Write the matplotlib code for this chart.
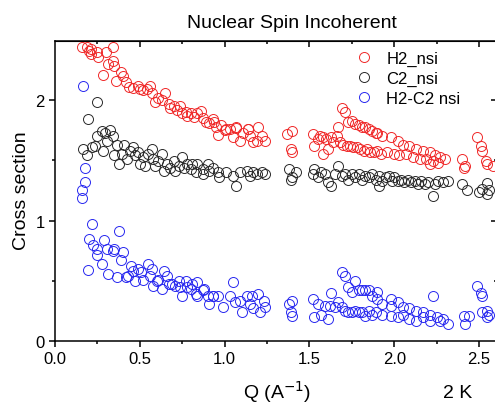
import matplotlib
matplotlib.use("Agg")
import matplotlib.pyplot as plt

plt.rcParams['font.family'] = ['Liberation Sans', 'DejaVu Sans']

# H2_nsi (red)
q_h2 = [0.157, 0.187, 0.20, 0.215, 0.21, 0.25, 0.255, 0.30, 0.34, 0.315, 0.34, 0.35,
        0.285, 0.39, 0.40, 0.36, 0.42, 0.435, 0.46, 0.49, 0.50, 0.52, 0.54, 0.56,
        0.57, 0.59, 0.61, 0.63, 0.65, 0.67, 0.68, 0.70, 0.72, 0.74, 0.75, 0.77,
        0.78, 0.80, 0.82, 0.84, 0.86, 0.87, 0.89, 0.91, 0.93, 0.95, 0.96,
        0.94, 0.98, 1.00, 1.03, 1.05, 1.07, 1.09, 1.11, 1.14, 1.15, 1.17, 1.19,
        1.20, 1.22, 1.24, 1.01, 1.07, 1.14,
        1.37, 1.40, 1.39, 1.40,
        1.52, 1.53, 1.55, 1.56, 1.58, 1.58, 1.60, 1.61, 1.63, 1.64, 1.66, 1.68,
        1.67, 1.69, 1.71, 1.73, 1.75, 1.77, 1.79, 1.81, 1.83, 1.85, 1.87, 1.89,
        1.70, 1.72, 1.74, 1.76, 1.78, 1.80, 1.82, 1.84, 1.86, 1.88, 1.90,
        1.90, 1.93, 1.98, 2.02, 2.05, 2.09, 2.13, 2.17, 2.21, 2.24, 2.27, 2.30,
        1.92, 1.96, 2.00, 2.03, 2.07, 2.11, 2.15, 2.19, 2.23, 2.26, 2.21,
        2.40, 2.42, 2.41,
        2.49, 2.51, 2.52, 2.54, 2.55, 2.58]
cs_h2 = [2.44, 2.44, 2.41, 2.42, 2.38, 2.40, 2.36, 2.40, 2.44, 2.30, 2.32, 2.28,
         2.21, 2.23, 2.20, 2.16, 2.15, 2.11, 2.10, 2.12, 2.09, 2.08, 2.09, 2.12,
         2.06, 1.98, 2.02, 2.00, 2.06, 1.97, 1.93, 1.95, 1.92, 1.95, 1.89, 1.90,
         1.87, 1.89, 1.86, 1.89, 1.91, 1.85, 1.82, 1.81, 1.84, 1.78, 1.71,
         1.82, 1.79, 1.75, 1.76, 1.69, 1.78, 1.66, 1.73, 1.76, 1.70, 1.65, 1.66,
         1.78, 1.70, 1.66, 1.76, 1.77, 1.76,
         1.72, 1.74, 1.59, 1.57,
         1.72, 1.62, 1.68, 1.70, 1.55, 1.69, 1.68, 1.59, 1.69, 1.65, 1.70, 1.65,
         1.78, 1.93, 1.90, 1.82, 1.83, 1.80, 1.79, 1.78, 1.78, 1.76, 1.74, 1.73,
         1.63, 1.62, 1.62, 1.61, 1.61, 1.59, 1.58, 1.59, 1.57, 1.57, 1.58,
         1.73, 1.70, 1.69, 1.66, 1.63, 1.62, 1.59, 1.58, 1.57, 1.54, 1.53, 1.51,
         1.55, 1.57, 1.55, 1.54, 1.55, 1.53, 1.51, 1.51, 1.49, 1.48, 1.47,
         1.51, 1.45, 1.44,
         1.69, 1.62, 1.58, 1.49, 1.47, 1.45]

# C2_nsi (black)
q_c2 = [0.25, 0.195, 0.165, 0.19, 0.22, 0.235, 0.25, 0.28, 0.295, 0.285, 0.305, 0.325,
        0.34, 0.365, 0.35, 0.38, 0.395, 0.41, 0.425, 0.44, 0.46, 0.47, 0.49, 0.50,
        0.52, 0.53, 0.55, 0.57, 0.58, 0.59, 0.61, 0.63, 0.64, 0.66, 0.68, 0.70,
        0.71, 0.73, 0.75, 0.76, 0.78, 0.80, 0.81, 0.83, 0.84, 0.87, 0.87, 0.90,
        0.91, 0.93, 0.96, 0.97, 1.01, 1.05, 1.07, 1.09, 1.13, 1.15, 1.17, 1.19,
        1.22, 1.24,
        1.38, 1.39, 1.42, 1.40,
        1.52, 1.53, 1.55, 1.57, 1.59, 1.61, 1.63, 1.65, 1.67, 1.69, 1.71, 1.73,
        1.75, 1.77, 1.79, 1.81, 1.83, 1.85, 1.87, 1.89, 1.91, 1.93, 1.95, 1.97,
        1.99, 2.00, 2.02, 2.04, 2.06, 2.08, 2.10, 2.12, 2.14, 2.16, 2.18, 2.20,
        2.23, 2.24, 2.26, 2.29, 2.32, 1.91,
        2.40, 2.43,
        2.50, 2.52, 2.55, 2.56, 2.55]
cs_c2 = [1.98, 1.84, 1.59, 1.54, 1.61, 1.62, 1.70, 1.74, 1.73, 1.58, 1.66, 1.75,
         1.70, 1.63, 1.54, 1.47, 1.55, 1.63, 1.51, 1.58, 1.61, 1.54, 1.57, 1.47,
         1.53, 1.45, 1.55, 1.59, 1.51, 1.45, 1.49, 1.55, 1.41, 1.47, 1.44, 1.49,
         1.41, 1.45, 1.53, 1.44, 1.47, 1.43, 1.47, 1.40, 1.47, 1.43, 1.39, 1.47,
         1.41, 1.44, 1.40, 1.36, 1.40, 1.37, 1.29, 1.40, 1.41, 1.37, 1.40, 1.39,
         1.40, 1.39,
         1.43, 1.34, 1.40, 1.36,
         1.39, 1.43, 1.36, 1.40, 1.39, 1.32, 1.29, 1.39, 1.45, 1.37, 1.39, 1.34,
         1.39, 1.36, 1.39, 1.34, 1.37, 1.36, 1.39, 1.34, 1.37, 1.33, 1.36, 1.37,
         1.33, 1.36, 1.33, 1.34, 1.32, 1.34, 1.32, 1.33, 1.30, 1.33, 1.30, 1.32,
         1.20, 1.30, 1.33, 1.32, 1.33, 1.29,
         1.30, 1.25,
         1.24, 1.26, 1.22, 1.25, 1.31]

# H2-C2 nsi (blue)
q_diff = [0.165, 0.18, 0.16, 0.16, 0.18,
          0.22, 0.20, 0.195, 0.225, 0.245, 0.245, 0.28, 0.29, 0.305, 0.31, 0.34, 0.35,
          0.375, 0.39, 0.40, 0.365, 0.42, 0.43, 0.45, 0.47, 0.46, 0.49, 0.51, 0.52,
          0.55, 0.56, 0.57, 0.58, 0.60, 0.61, 0.63, 0.64, 0.66, 0.67, 0.69, 0.71,
          0.73, 0.75, 0.74, 0.77, 0.78, 0.80, 0.81, 0.83, 0.84, 0.84, 0.87, 0.88,
          0.90, 0.91, 0.93, 0.96, 1.05, 0.93, 0.99, 1.03, 1.09, 1.10, 1.13, 1.15,
          1.17, 1.20, 1.21, 1.23, 1.24, 1.16, 1.06,
          1.38, 1.40, 1.39, 1.40,
          1.52, 1.53, 1.55, 1.57, 1.59, 1.61, 1.63, 1.62, 1.65, 1.67, 1.69, 1.71,
          1.73, 1.75, 1.77, 1.79, 1.81, 1.83, 1.85, 1.87, 1.89,
          1.69, 1.71, 1.73, 1.75, 1.77, 1.79, 1.81, 1.83, 1.85, 1.87, 1.90,
          1.98, 2.02, 2.05, 2.09, 2.13, 2.17, 2.21, 2.25, 2.29, 2.32,
          1.93, 1.98, 2.02, 2.05, 2.09, 2.13, 2.17, 2.21, 2.23, 2.27, 1.93, 1.90, 1.98,
          2.41, 2.44, 2.42,
          2.49, 2.52, 2.51, 2.52, 2.55, 2.55, 2.56]
cs_diff = [2.12, 1.44, 1.25, 1.19, 1.32,
           0.97, 0.85, 0.59, 0.80, 0.76, 0.71, 0.64, 0.84, 0.76, 0.56, 0.75, 0.76,
           0.91, 0.67, 0.74, 0.53, 0.53, 0.54, 0.62, 0.50, 0.58, 0.60, 0.57, 0.51,
           0.64, 0.54, 0.60, 0.46, 0.50, 0.51, 0.43, 0.58, 0.54, 0.47, 0.47, 0.46,
           0.50, 0.37, 0.45, 0.50, 0.45, 0.43, 0.47, 0.39, 0.49, 0.37, 0.42, 0.43,
           0.37, 0.31, 0.37, 0.37, 0.49, 0.37, 0.28, 0.37, 0.33, 0.24, 0.37, 0.31,
           0.27, 0.39, 0.24, 0.33, 0.28, 0.37, 0.32,
           0.31, 0.33, 0.24, 0.21,
           0.35, 0.20, 0.31, 0.22, 0.29, 0.18, 0.40, 0.29, 0.28, 0.32, 0.28, 0.25,
           0.24, 0.24, 0.25, 0.24, 0.24, 0.21, 0.25, 0.22, 0.24,
           0.57, 0.54, 0.45, 0.41, 0.50, 0.42, 0.42, 0.42, 0.42, 0.37, 0.41,
           0.35, 0.32, 0.28, 0.27, 0.25, 0.24, 0.22, 0.20, 0.18, 0.14,
           0.22, 0.21, 0.20, 0.22, 0.18, 0.17, 0.20, 0.17, 0.37, 0.17, 0.31, 0.35, 0.29,
           0.21, 0.21, 0.14,
           0.46, 0.37, 0.40, 0.24, 0.20, 0.25, 0.22]

fig = plt.figure(figsize=(4.95, 4.06), dpi=100)
# right spine sits just past the image edge, as in the cropped original
ax = fig.add_axes([0.111, 0.1576, 0.893, 0.739])

mk = dict(linestyle='none', marker='o', markerfacecolor='none', markersize=7.2, markeredgewidth=0.7)
ax.plot(q_h2, cs_h2, markeredgecolor='#f02828', label='H2_nsi', **mk)
ax.plot(q_c2, cs_c2, markeredgecolor='#282828', label='C2_nsi', **mk)
ax.plot(q_diff, cs_diff, markeredgecolor='#2828f0', label='H2-C2 nsi', **mk)

ax.set_xlim(0, 2.606)
ax.set_ylim(0, 2.49)
ax.set_xticks([0, 0.5, 1.0, 1.5, 2.0, 2.5])
ax.set_xticklabels(['0.0', '0.5', '1.0', '1.5', '2.0', '2.5'])
ax.set_xticks([0.25, 0.75, 1.25, 1.75, 2.25], minor=True)
ax.set_yticks([0, 1, 2])
ax.set_yticks([0.5, 1.5], minor=True)
ax.tick_params(which='major', direction='out', length=4.5, width=1.1, labelsize=12, pad=3)
ax.tick_params(which='minor', direction='out', length=2.5, width=1.1)
for s in ax.spines.values():
    s.set_linewidth(1.1)

top = ax.secondary_xaxis('top')
top.set_xticks([0.5, 1.0, 1.5, 2.0, 2.5])
top.set_xticks([0.25, 0.75, 1.25, 1.75, 2.25], minor=True)
top.tick_params(which='both', direction='in', labeltop=False, width=1.1)
top.tick_params(which='major', length=4.5)
top.tick_params(which='minor', length=2.5)
right = ax.secondary_yaxis('right')
right.set_yticks([1, 2])
right.set_yticks([0.5, 1.5], minor=True)
right.tick_params(which='both', direction='in', labelright=False, width=1.1)
right.tick_params(which='major', length=4.5)
right.tick_params(which='minor', length=2.5)

ax.set_title('Nuclear Spin Incoherent', fontsize=14, pad=10, x=0.536)
ax.set_ylabel('Cross section', fontsize=14)
ax.yaxis.set_label_coords(-0.056, 0.503)
ax.set_xlabel('Q (A$^{-1}$)', fontsize=14)
ax.xaxis.set_label_coords(0.502, -0.122)
fig.text(0.925, 0.03, '2 K', fontsize=14, ha='center', va='center')

ax.legend(loc='upper left', bbox_to_anchor=(0.638, 1.0), frameon=False, fontsize=12,
          handletextpad=0.35, labelspacing=0.3, borderaxespad=0.2)

fig.savefig('out.png', dpi=100)
